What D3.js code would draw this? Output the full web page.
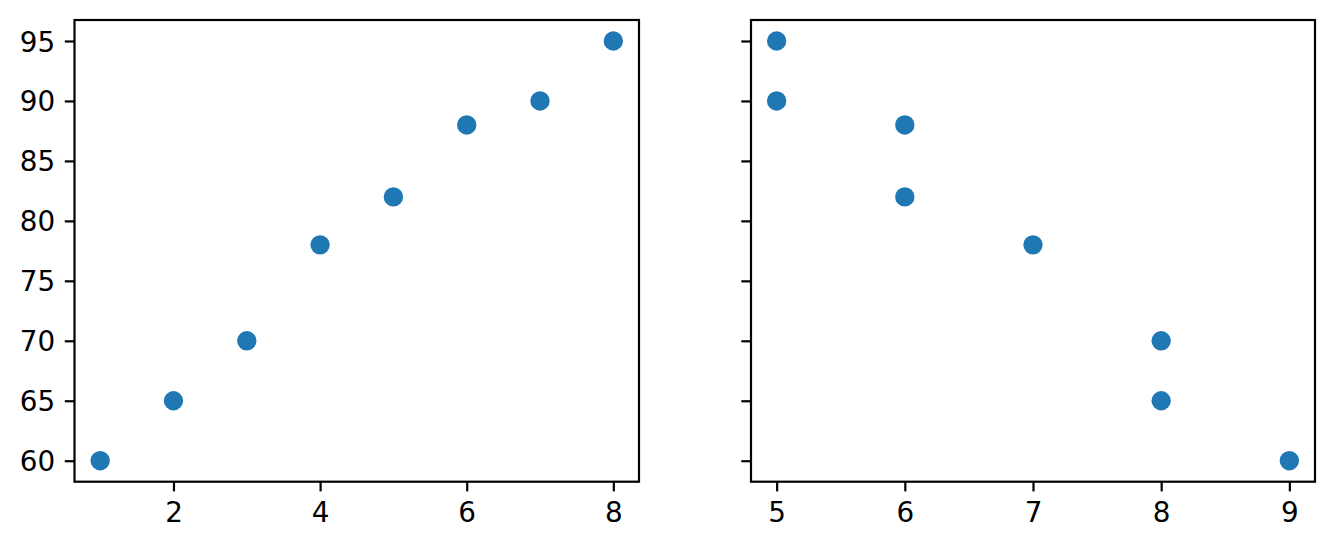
<!DOCTYPE html>
<html>
<head>
<meta charset="utf-8">
<script src="https://cdn.jsdelivr.net/npm/d3@7"></script>
<style>
html,body{margin:0;padding:0;background:#fff;}
svg{display:block;}
</style>
</head>
<body>
<svg id="chart" width="1334" height="549"></svg>
<script>
const leftX = [1, 2, 3, 4, 5, 6, 7, 8];
const leftY = [60, 65, 70, 78, 82, 88, 90, 95];
const rightX = [5, 5, 6, 6, 7, 8, 8, 9];
const rightY = [95, 90, 88, 82, 78, 70, 65, 60];
const leftXTicks = [2, 4, 6, 8];
const rightXTicks = [5, 6, 7, 8, 9];
const yTicks = [60, 65, 70, 75, 80, 85, 90, 95];

const svg = d3.select("#chart");
const font = "'DejaVu Sans', sans-serif";
const fs = 27.8;
const lw = 2.2;
const tick = 9.7;
const pad = 9.7;
const color = "#1f77b4";

const plotTop = 20, plotBottom = 481.7;

function ext(vals) {
  const mn = d3.min(vals), mx = d3.max(vals);
  const m = (mx - mn) * 0.05;
  return [mn - m, mx + m];
}

const y = d3.scaleLinear().domain(ext(leftY.concat(rightY))).range([plotBottom, plotTop]);

function panel(x0, x1, xs, ys, xTicks, showYLabels) {
  const x = d3.scaleLinear().domain(ext(xs)).range([x0, x1]);
  const g = svg.append("g");

  g.selectAll("circle").data(xs.map((d, i) => [d, ys[i]])).enter()
    .append("circle")
    .attr("cx", d => x(d[0]))
    .attr("cy", d => y(d[1]))
    .attr("r", 9.7)
    .attr("fill", color);

  const xa = g.append("g").attr("transform", `translate(0,${plotBottom})`)
    .call(d3.axisBottom(x).tickValues(xTicks).tickSize(tick).tickPadding(pad).tickSizeOuter(0).tickFormat(d3.format("d")));
  xa.select(".domain").remove();
  xa.selectAll("line").attr("stroke", "#000").attr("stroke-width", lw);
  xa.selectAll("text").attr("font-family", font).attr("font-size", fs).attr("fill", "#000")
    .attr("y", 0).attr("dy", 0)
    .attr("transform", `translate(0,${tick + pad + 0.74 * fs})`);

  const ya = g.append("g").attr("transform", `translate(${x0},0)`)
    .call(d3.axisLeft(y).tickValues(yTicks).tickSize(tick).tickPadding(pad).tickSizeOuter(0));
  ya.select(".domain").remove();
  ya.selectAll("line").attr("stroke", "#000").attr("stroke-width", lw);
  if (showYLabels) {
    ya.selectAll("text").attr("font-family", font).attr("font-size", fs).attr("fill", "#000")
      .attr("dy", "0.36em");
  } else {
    ya.selectAll("text").remove();
  }

  g.append("rect")
    .attr("x", x0).attr("y", plotTop)
    .attr("width", x1 - x0).attr("height", plotBottom - plotTop)
    .attr("fill", "none").attr("stroke", "#000").attr("stroke-width", lw)
    .attr("stroke-linejoin", "miter");
}

panel(74.5, 639, leftX, leftY, leftXTicks, true);
panel(751, 1315, rightX, rightY, rightXTicks, false);
</script>
</body>
</html>
